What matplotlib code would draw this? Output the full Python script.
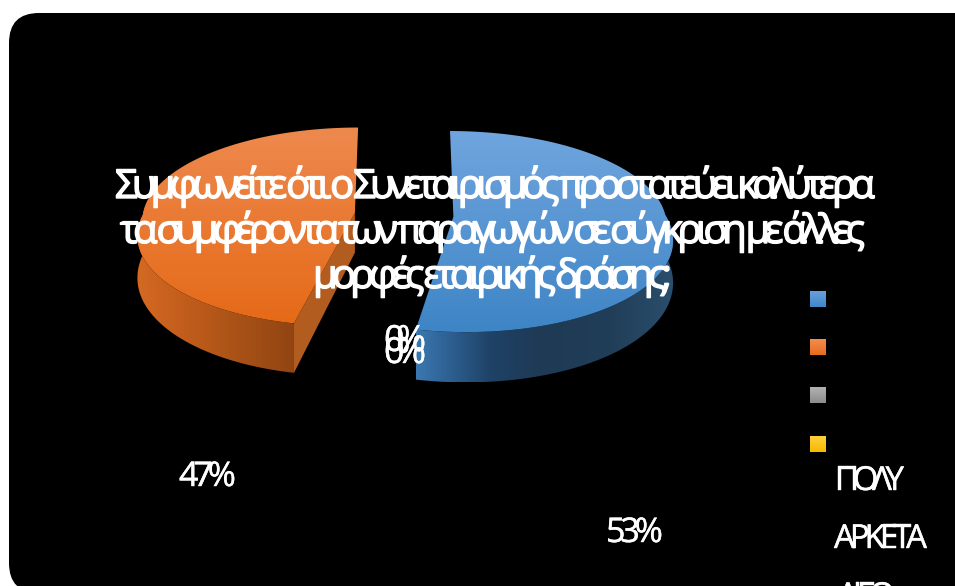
"""Exploded 3D-style pie of survey answers, on a black rounded panel."""

import numpy as np
import matplotlib
matplotlib.use("Agg")
import matplotlib.pyplot as plt
import matplotlib.text as mtext
import matplotlib.patheffects as pe
from matplotlib.patches import FancyBboxPatch, Polygon
from matplotlib.transforms import Bbox, IdentityTransform

W, H = 955, 586

# Data
values = [53, 47, 0, 0]
categories = ["ΠΟΛΥ", "ΑΡΚΕΤΑ", "ΛΙΓΟ"]
title_lines = [
    "Συμφωνείτε ότι ο Συνεταιρισμός προστατεύει καλύτερα",
    "τα συμφέροντα των παραγωγών σε σύγκριση με άλλες",
    "μορφές εταιρικής δράσης;",
]

# Colours
face_top = [(112, 165, 222), (238, 137, 78)]
face_bottom = [(62, 133, 198), (229, 106, 24)]
side_x = [[413, 450, 490, 540, 610, 672], [137, 180, 230, 292]]
side_rgb = [
    [(60, 122, 178), (45, 95, 145), (31, 66, 102), (30, 58, 85), (33, 62, 88), (42, 78, 108)],
    [(212, 106, 34), (196, 94, 28), (172, 84, 24), (146, 69, 18)],
]
swatch_top = [(104, 160, 220), (242, 140, 80), (178, 178, 178), (255, 208, 60)]
swatch_bottom = [(64, 135, 200), (232, 108, 28), (140, 140, 140), (245, 185, 0)]
swatch_y = [292, 340, 388, 437]

# Pie geometry (screen px), with a simple perspective divide
CX, CY = 404, 214.7
RX, RY = 212, 91.4
PERSP_BACK, PERSP_FRONT = 0.07, 0.2
DEPTH = 40
EXPLODE = 0.233


def project(u, v, z=0.0):
    w = 1 + np.where(np.asarray(v) > 0, PERSP_BACK, PERSP_FRONT) * v
    return CX + RX * u / w, CY + (z - RY * v) / w


def gradient_fill(ax, extent, top, bottom, clip=None, zorder=1):
    x0, x1, y0, y1 = extent
    t = np.linspace(0, 1, 64)[:, None]
    img = (np.array(top) * (1 - t) + np.array(bottom) * t)[:, None, :] / 255
    im = ax.imshow(img, extent=(x0, x1, y1, y0), aspect="auto", zorder=zorder,
                   interpolation="bilinear")
    if clip is not None:
        im.set_clip_path(clip)
    return im


class TrackedText(mtext.Text):
    """One string fitted to a given pixel span by tightening its letter spacing."""

    def __init__(self, x0, x1, baseline, text, **kwargs):
        super().__init__(x0, baseline, text, **kwargs)
        self.span = (x0, x1)
        self.baseline = baseline

    def draw(self, renderer):
        s = self.get_text()
        prop = self.get_fontproperties()
        width = lambda t: renderer.get_text_width_height_descent(t, prop, False)[0]
        track = ((self.span[1] - self.span[0]) - width(s)) / max(len(s) - 1, 1)
        for i, ch in enumerate(s):
            if ch == " ":
                continue
            px = self.span[0] + width(s[:i + 1]) - width(ch) + track * i
            glyph = mtext.Text(px, H - self.baseline, ch, color=self.get_color(),
                               fontproperties=prop, ha="left", va="baseline",
                               transform=IdentityTransform(),
                               path_effects=self.get_path_effects())
            glyph.set_figure(self.get_figure())
            glyph.draw(renderer)

    def get_window_extent(self, renderer=None, dpi=None):
        size = self.get_fontsize() * 100 / 72
        return Bbox([[self.span[0], H - self.baseline - 0.25 * size],
                     [self.span[1], H - self.baseline + 0.75 * size]])


def label(ax, x0, x1, baseline, text, px, stroke=0.3):
    t = TrackedText(x0, x1, baseline, text, color="white", family="Open Sans",
                    fontsize=px * 72 / 100, zorder=6,
                    path_effects=[pe.withStroke(linewidth=stroke, foreground="white")])
    ax.add_artist(t)


def draw_slice(ax, i, start, end):
    mid = (start + end) / 2
    du, dv = EXPLODE * np.sin(mid), EXPLODE * np.cos(mid)
    th = np.linspace(start, end, 240)
    u, v = du + np.sin(th), dv + np.cos(th)
    xt, yt = project(u, v)
    xb, yb = project(u, v, DEPTH)
    ax_, ay_ = project(du, dv)
    bx_, by_ = project(du, dv, DEPTH)

    # outer wall, front part only, shaded from left to right
    front = np.cos(th) < 0.2
    wall = np.r_[np.column_stack([xt[front], yt[front]]),
                 np.column_stack([xb[front], yb[front]])[::-1]]
    wall_patch = Polygon(wall, closed=True, facecolor="none", edgecolor="none")
    ax.add_patch(wall_patch)
    x0, x1 = wall[:, 0].min(), wall[:, 0].max()
    grid = np.linspace(x0, x1, 256)
    stops = np.array(side_rgb[i], dtype=float)
    shade = np.column_stack([np.interp(grid, side_x[i], stops[:, c]) for c in range(3)]) / 255
    im = ax.imshow(shade[None, :, :], extent=(x0, x1, wall[:, 1].max(), wall[:, 1].min()),
                   aspect="auto", zorder=2 + i, interpolation="bilinear")
    im.set_clip_path(wall_patch)

    # cut face at the front of the left-hand slice
    if i == 1:
        cut = [(ax_, ay_), (bx_, by_), (xb[0], yb[0]), (xt[0], yt[0])]
        ax.add_patch(Polygon(cut, closed=True, facecolor=(0.70, 0.36, 0.12),
                             edgecolor="none", zorder=2 + i))

    # top face
    pts = np.column_stack([np.r_[ax_, xt], np.r_[ay_, yt]])
    outline = Polygon(pts, closed=True, facecolor="none", edgecolor="none")
    ax.add_patch(outline)
    gradient_fill(ax, (pts[:, 0].min(), pts[:, 0].max(), pts[:, 1].min(), pts[:, 1].max()),
                  face_top[i], face_bottom[i], clip=outline, zorder=3 + i)


fig = plt.figure(figsize=(W / 100, H / 100), dpi=100, facecolor="white")
ax = fig.add_axes([0, 0, 1, 1])
ax.set_axis_off()

ax.add_patch(FancyBboxPatch((39, 43), 950, 520, boxstyle="round,pad=30,rounding_size=30",
                            facecolor="black", edgecolor="none", zorder=0))

# Slices run clockwise from twelve o'clock; the empty ones draw nothing
edges = 2 * np.pi * np.cumsum([0] + values) / sum(values)
for i in range(len(values)):
    if values[i] > 0:
        draw_slice(ax, i, edges[i], edges[i + 1])

# Legend swatches and names
for top, bottom, y in zip(swatch_top, swatch_bottom, swatch_y):
    gradient_fill(ax, (810, 826, y, y + 15.5), top, bottom, zorder=5)
label(ax, 835, 904, 490, categories[0], 33)
label(ax, 834, 927, 548, categories[1], 33)
label(ax, 838, 895, 606, categories[2], 33)

# Data labels
label(ax, 606, 663, 542, f"{values[0]}%", 34)
label(ax, 179, 236, 486, f"{values[1]}%", 34)
label(ax, 384, 426, 351, f"{values[2]}%", 36)
label(ax, 384, 426, 363, f"{values[3]}%", 36)

# Title
label(ax, 115, 875, 198, title_lines[0], 40, stroke=1.0)
label(ax, 120, 865, 243, title_lines[1], 40, stroke=1.0)
label(ax, 313, 672, 288, title_lines[2], 40, stroke=1.0)

ax.set_xlim(0, W)
ax.set_ylim(H, 0)
fig.savefig("out.png", dpi=100, facecolor="white")
